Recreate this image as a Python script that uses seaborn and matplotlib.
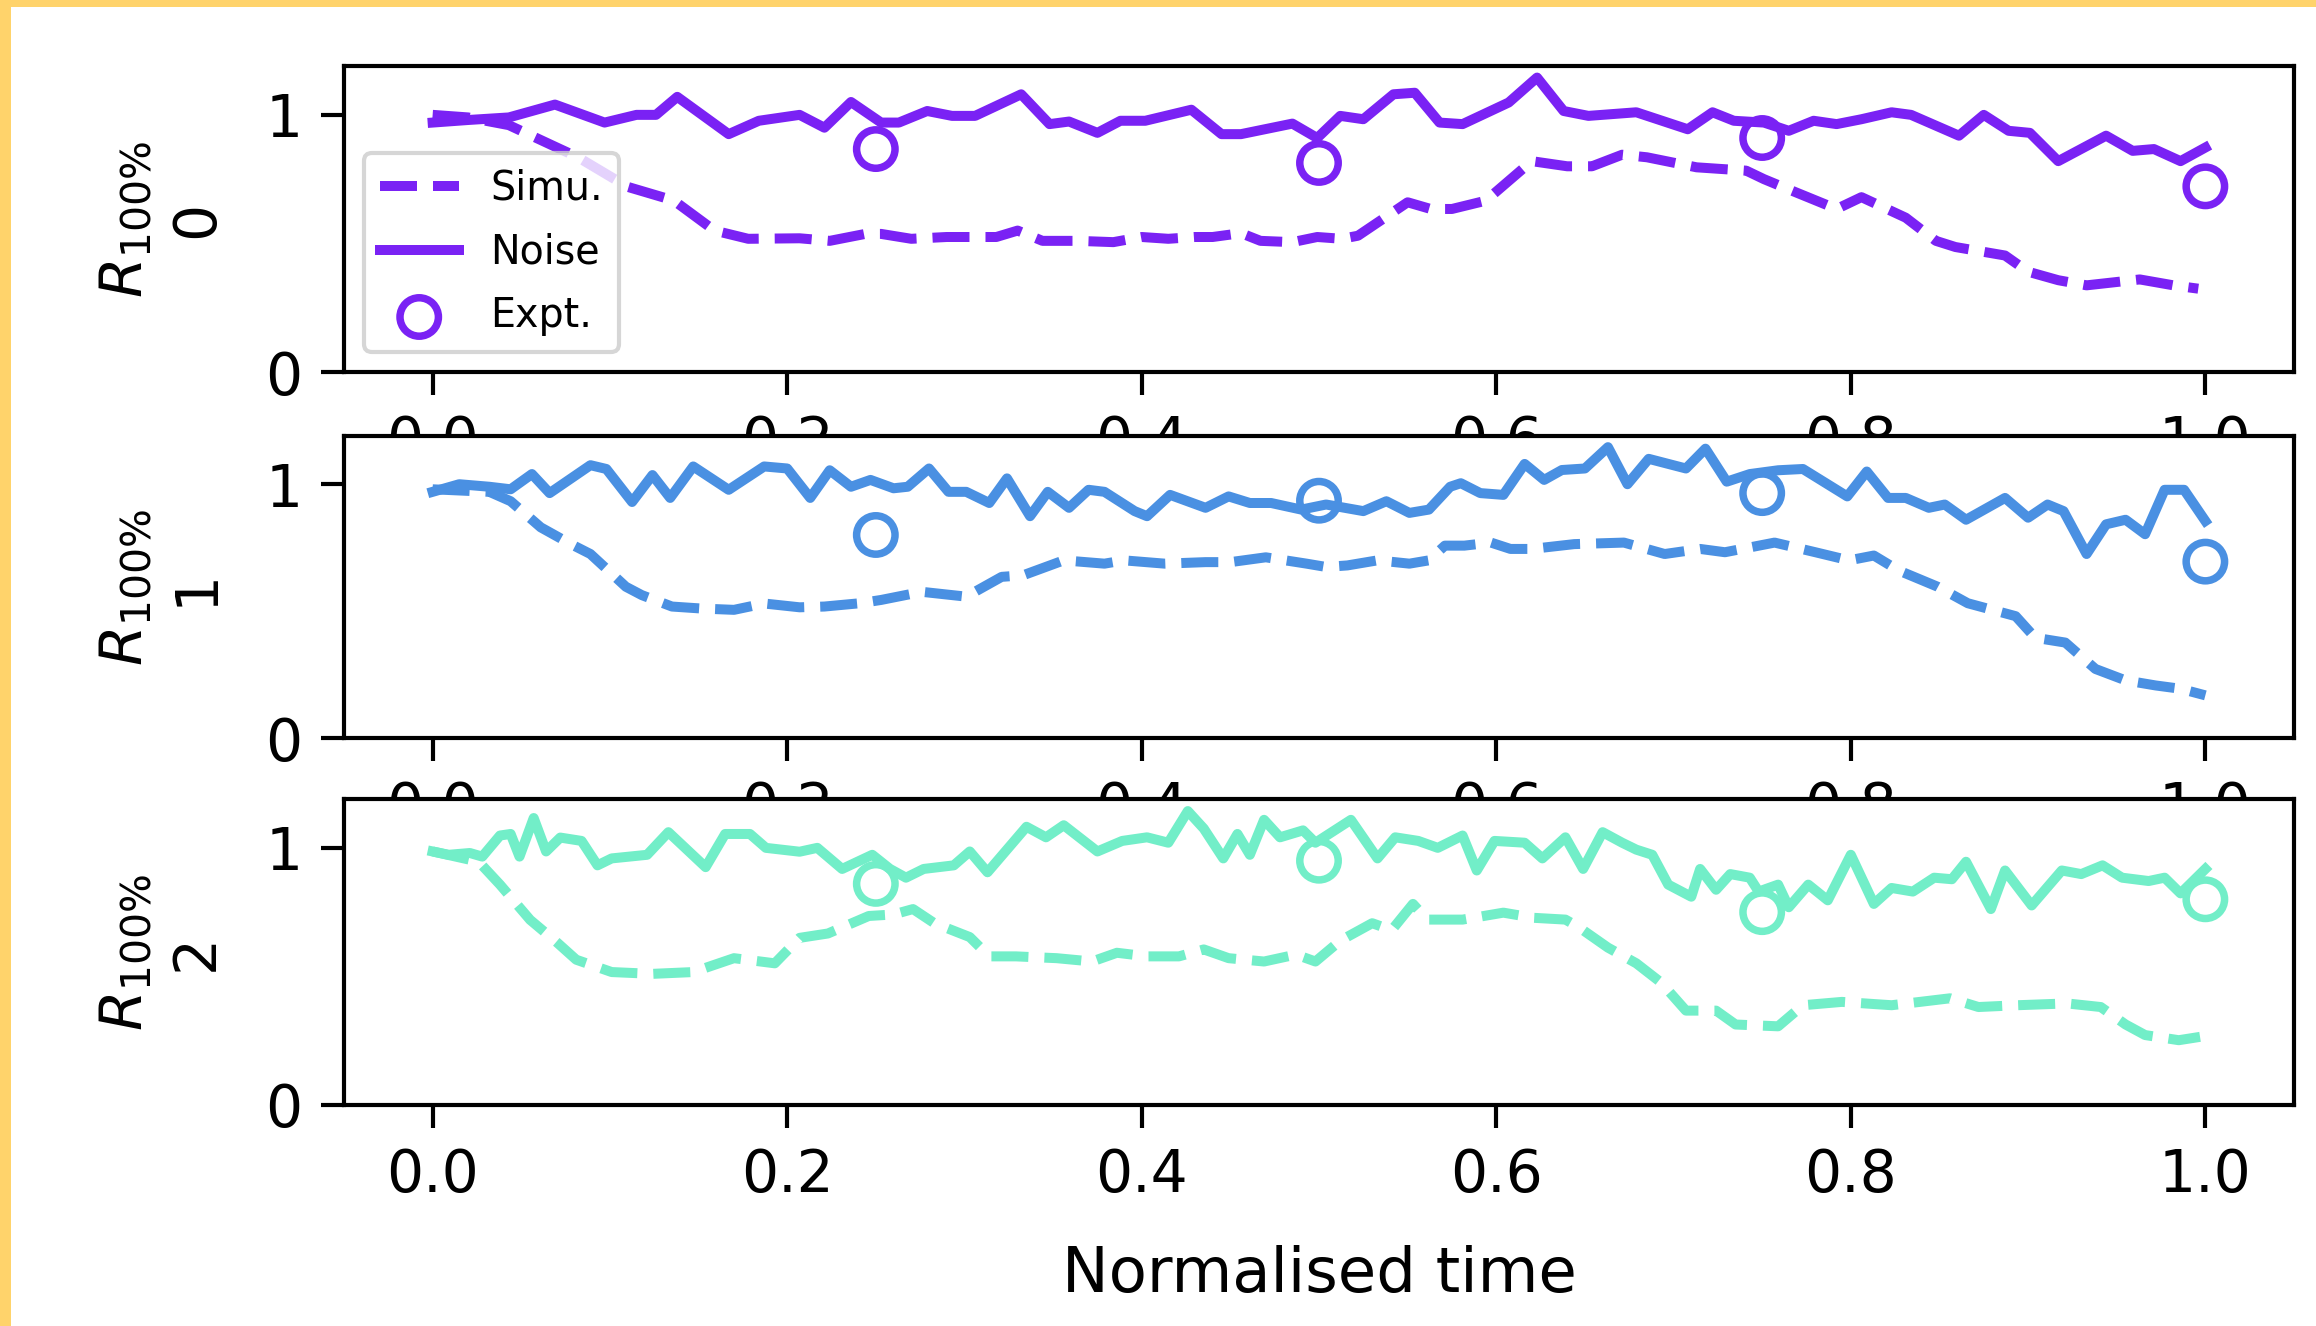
import numpy as np
import pandas as pd
import matplotlib
matplotlib.use("Agg")
import matplotlib.pyplot as plt
from matplotlib.patches import Rectangle
import seaborn as sns

# ---------------- data ----------------
row_ids = ["0", "1", "2"]
row_colors = ["#7a22f4", "#4a90e2", "#72eec8"]

expt_t = [0.25, 0.5, 0.75, 1.0]
expt_r0 = [0.867, 0.813, 0.91, 0.722]
expt_r1 = [0.80, 0.935, 0.965, 0.695]
expt_r2 = [0.86, 0.95, 0.75, 0.80]

noise_t0 = [0.000, 0.020, 0.043, 0.069, 0.097, 0.115, 0.126, 0.138, 0.167, 0.184,
            0.207, 0.221, 0.236, 0.253, 0.263, 0.279, 0.293, 0.306, 0.332, 0.348,
            0.359, 0.375, 0.388, 0.402, 0.428, 0.445, 0.456, 0.485, 0.499, 0.512,
            0.525, 0.542, 0.554, 0.568, 0.581, 0.607, 0.623, 0.638, 0.652, 0.679,
            0.708, 0.722, 0.734, 0.751, 0.765, 0.779, 0.792, 0.806, 0.823, 0.834,
            0.861, 0.875, 0.889, 0.901, 0.917, 0.944, 0.959, 0.971, 0.986, 1.000]
noise_r0 = [0.97, 0.98, 0.99, 1.04, 0.97, 1.00, 1.00, 1.07, 0.925, 0.977,
            1.00, 0.95, 1.05, 0.97, 0.97, 1.015, 0.996, 0.996, 1.08, 0.964,
            0.974, 0.93, 0.977, 0.977, 1.02, 0.925, 0.925, 0.966, 0.91, 0.996,
            0.983, 1.08, 1.086, 0.97, 0.964, 1.048, 1.145, 1.015, 0.996, 1.01,
            0.944, 1.01, 0.977, 0.97, 0.938, 0.977, 0.964, 0.983, 1.01, 1.00,
            0.919, 1.00, 0.938, 0.93, 0.82, 0.919, 0.86, 0.867, 0.82, 0.873]

simu_t0 = [0.000, 0.020, 0.043, 0.071, 0.082, 0.110, 0.136, 0.159, 0.178, 0.207,
           0.224, 0.244, 0.253, 0.270, 0.290, 0.300, 0.318, 0.330, 0.344, 0.364,
           0.384, 0.400, 0.415, 0.430, 0.440, 0.456, 0.467, 0.485, 0.499, 0.513,
           0.522, 0.550, 0.563, 0.575, 0.594, 0.620, 0.640, 0.654, 0.671, 0.685,
           0.713, 0.741, 0.751, 0.765, 0.792, 0.806, 0.831, 0.848, 0.859, 0.887,
           0.900, 0.917, 0.933, 0.950, 0.963, 0.982, 0.996]
simu_r0 = [1.00, 0.99, 0.96, 0.87, 0.835, 0.72, 0.667, 0.55, 0.518, 0.52,
           0.51, 0.537, 0.537, 0.518, 0.525, 0.525, 0.525, 0.55, 0.51, 0.51,
           0.505, 0.525, 0.518, 0.525, 0.525, 0.54, 0.51, 0.505, 0.525, 0.518,
           0.53, 0.66, 0.634, 0.634, 0.666, 0.82, 0.80, 0.80, 0.845, 0.835,
           0.796, 0.783, 0.75, 0.71, 0.634, 0.68, 0.60, 0.51, 0.486, 0.453,
           0.39, 0.357, 0.337, 0.35, 0.36, 0.337, 0.324]

noise_t1 = [0.000, 0.015, 0.032, 0.044, 0.056, 0.066, 0.089, 0.098, 0.1125, 0.124,
            0.134, 0.147, 0.167, 0.187, 0.200, 0.213, 0.224, 0.236, 0.247, 0.260,
            0.268, 0.280, 0.291, 0.301, 0.314, 0.324, 0.337, 0.347, 0.359, 0.370,
            0.379, 0.396, 0.403, 0.416, 0.436, 0.449, 0.461, 0.473, 0.490, 0.504,
            0.525, 0.538, 0.551, 0.562, 0.574, 0.580, 0.591, 0.604, 0.616, 0.627,
            0.637, 0.650, 0.663, 0.674, 0.686, 0.707, 0.718, 0.730, 0.743, 0.759,
            0.773, 0.798, 0.809, 0.821, 0.831, 0.844, 0.853, 0.865, 0.887, 0.900,
            0.911, 0.920, 0.933, 0.944, 0.955, 0.966, 0.977, 0.988, 1.000]
noise_r1 = [0.97, 1.00, 0.99, 0.98, 1.04, 0.965, 1.075, 1.06, 0.93, 1.036,
            0.946, 1.07, 0.978, 1.07, 1.062, 0.946, 1.055, 0.99, 1.017, 0.984,
            0.99, 1.062, 0.97, 0.97, 0.926, 1.023, 0.874, 0.97, 0.907, 0.978,
            0.97, 0.894, 0.874, 0.958, 0.907, 0.952, 0.926, 0.926, 0.90, 0.92,
            0.894, 0.933, 0.887, 0.90, 0.99, 1.004, 0.965, 0.958, 1.08, 1.017,
            1.056, 1.062, 1.146, 1.00, 1.10, 1.062, 1.14, 1.01, 1.04, 1.055,
            1.06, 0.952, 1.05, 0.946, 0.946, 0.907, 0.92, 0.86, 0.946, 0.868,
            0.92, 0.894, 0.725, 0.842, 0.86, 0.803, 0.978, 0.978, 0.855]

simu_t1 = [0.000, 0.032, 0.044, 0.061, 0.078, 0.089, 0.109, 0.118, 0.135, 0.152,
           0.170, 0.187, 0.207, 0.221, 0.241, 0.253, 0.276, 0.301, 0.321, 0.333,
           0.356, 0.379, 0.390, 0.413, 0.436, 0.450, 0.470, 0.493, 0.504, 0.516,
           0.533, 0.551, 0.562, 0.571, 0.582, 0.597, 0.608, 0.620, 0.644, 0.672,
           0.695, 0.715, 0.729, 0.757, 0.780, 0.799, 0.813, 0.827, 0.849, 0.866,
           0.893, 0.904, 0.921, 0.938, 0.955, 0.972, 0.986, 1.000]
simu_r1 = [0.98, 0.97, 0.933, 0.83, 0.764, 0.725, 0.596, 0.563, 0.518, 0.51,
           0.505, 0.53, 0.515, 0.518, 0.531, 0.544, 0.576, 0.557, 0.635, 0.641,
           0.70, 0.687, 0.70, 0.687, 0.693, 0.693, 0.712, 0.687, 0.674, 0.68,
           0.70, 0.687, 0.70, 0.758, 0.758, 0.77, 0.745, 0.745, 0.764, 0.77,
           0.725, 0.745, 0.732, 0.77, 0.732, 0.70, 0.719, 0.66, 0.596, 0.531,
           0.48, 0.395, 0.376, 0.272, 0.227, 0.207, 0.194, 0.168]

noise_t2 = [0.000, 0.009, 0.021, 0.028, 0.038, 0.044, 0.049, 0.057, 0.064, 0.072,
            0.084, 0.093, 0.101, 0.121, 0.133, 0.154, 0.165, 0.179, 0.188, 0.207,
            0.217, 0.231, 0.248, 0.258, 0.267, 0.277, 0.294, 0.303, 0.313, 0.335,
            0.346, 0.356, 0.375, 0.389, 0.403, 0.415, 0.426, 0.435, 0.446, 0.454,
            0.461, 0.469, 0.478, 0.491, 0.498, 0.518, 0.533, 0.543, 0.556, 0.567,
            0.581, 0.589, 0.599, 0.616, 0.626, 0.639, 0.649, 0.660, 0.671, 0.679,
            0.688, 0.697, 0.710, 0.715, 0.724, 0.732, 0.743, 0.748, 0.759, 0.765,
            0.776, 0.787, 0.800, 0.813, 0.823, 0.835, 0.847, 0.857, 0.865, 0.879,
            0.887, 0.902, 0.919, 0.930, 0.942, 0.953, 0.968, 0.977, 0.986, 1.000]
noise_r2 = [0.986, 0.973, 0.98, 0.966, 1.048, 1.054, 0.966, 1.116, 0.986, 1.04,
            1.027, 0.932, 0.959, 0.973, 1.061, 0.925, 1.054, 1.054, 1.00, 0.985,
            1.00, 0.918, 0.973, 0.918, 0.884, 0.918, 0.932, 0.986, 0.905, 1.082,
            1.041, 1.088, 0.986, 1.027, 1.041, 1.02, 1.143, 1.075, 0.959, 1.054,
            0.973, 1.109, 1.041, 1.068, 1.02, 1.109, 0.959, 1.041, 1.027, 1.00,
            1.048, 0.912, 1.027, 1.02, 0.959, 1.041, 0.918, 1.061, 1.02, 0.993,
            0.973, 0.857, 0.81, 0.918, 0.837, 0.898, 0.884, 0.83, 0.857, 0.769,
            0.857, 0.796, 0.973, 0.782, 0.844, 0.83, 0.884, 0.878, 0.946, 0.762,
            0.912, 0.776, 0.912, 0.898, 0.932, 0.884, 0.871, 0.884, 0.823, 0.918]

simu_t2 = [0.000, 0.026, 0.038, 0.055, 0.070, 0.081, 0.101, 0.124, 0.147, 0.170,
           0.193, 0.207, 0.223, 0.246, 0.260, 0.271, 0.283, 0.303, 0.314, 0.329,
           0.352, 0.372, 0.386, 0.403, 0.421, 0.435, 0.449, 0.469, 0.487, 0.498,
           0.512, 0.530, 0.541, 0.553, 0.561, 0.581, 0.604, 0.621, 0.639, 0.646,
           0.663, 0.679, 0.693, 0.707, 0.724, 0.735, 0.759, 0.773, 0.795, 0.823,
           0.839, 0.856, 0.872, 0.894, 0.922, 0.941, 0.955, 0.966, 0.985, 0.997]
simu_r2 = [0.986, 0.946, 0.857, 0.72, 0.633, 0.565, 0.517, 0.51, 0.517, 0.571,
           0.551, 0.65, 0.667, 0.735, 0.741, 0.762, 0.707, 0.653, 0.578, 0.578,
           0.571, 0.558, 0.592, 0.578, 0.578, 0.605, 0.571, 0.558, 0.585, 0.558,
           0.639, 0.707, 0.68, 0.782, 0.721, 0.721, 0.748, 0.728, 0.721, 0.694,
           0.612, 0.551, 0.476, 0.367, 0.367, 0.313, 0.306, 0.388, 0.401, 0.388,
           0.401, 0.415, 0.381, 0.388, 0.395, 0.381, 0.313, 0.272, 0.252, 0.265]

x_ticks = [0.0, 0.2, 0.4, 0.6, 0.8, 1.0]
y_ticks = [0, 1]
x_label = "Normalised time"
legend_labels = ["Simu.", "Noise", "Expt."]

rows = [
    (noise_t0, noise_r0, simu_t0, simu_r0, expt_r0),
    (noise_t1, noise_r1, simu_t1, simu_r1, expt_r1),
    (noise_t2, noise_r2, simu_t2, simu_r2, expt_r2),
]

# ---------------- figure ----------------
plt.rcParams.update({
    "font.family": ["DejaVu Sans"],
    "axes.linewidth": 1.0,
    "xtick.major.size": 5.5,
    "ytick.major.size": 5.5,
    "xtick.major.width": 1.0,
    "ytick.major.width": 1.0,
    "xtick.major.pad": 4.5,
    "ytick.major.pad": 4.5,
    "xtick.labelsize": 14,
    "ytick.labelsize": 14,
})

W, H, DPI = 2316, 1326, 300
fig = plt.figure(figsize=(W / DPI, H / DPI), dpi=DPI, facecolor="white")

left = 344 / W
width = (2294 - 344) / W
tops = [66, 436, 799]
bottoms = [372, 738, 1105]

LW = 2.4
axes = []
for i, (nt, nr, st, sr, er) in enumerate(rows):
    rect = [left, 1 - bottoms[i] / H, width, (bottoms[i] - tops[i]) / H]
    ax = fig.add_axes(rect)
    ax.set_facecolor("white")
    c = row_colors[i]
    sim_df = pd.DataFrame({"t": st, "r": sr})
    noi_df = pd.DataFrame({"t": nt, "r": nr})
    exp_df = pd.DataFrame({"t": expt_t, "r": er})
    sns.lineplot(data=sim_df, x="t", y="r", ax=ax, color=c, linestyle="--",
                 linewidth=LW, sort=False, estimator=None, label=legend_labels[0])
    sns.lineplot(data=noi_df, x="t", y="r", ax=ax, color=c, linestyle="-",
                 linewidth=LW, sort=False, estimator=None, label=legend_labels[1])
    sns.scatterplot(data=exp_df, x="t", y="r", ax=ax, marker="o", s=85,
                    facecolors="none", edgecolor=c, linewidth=1.8,
                    label=legend_labels[2], zorder=3)
    ax.set_xlim(-0.05, 1.05)
    ax.set_ylim(0, 1.19)
    ax.set_xticks(x_ticks)
    ax.set_xticklabels([f"{v:.1f}" for v in x_ticks])
    ax.set_yticks(y_ticks)
    ax.set_yticklabels([str(v) for v in y_ticks])
    ax.set_xlabel("")
    ax.set_ylabel(r"$R_{100\%}$" + "\n" + row_ids[i], fontsize=14, labelpad=9.7,
                  linespacing=1.3)
    for sp in ax.spines.values():
        sp.set_color("black")
    if i == 0:
        ax.legend(loc="lower left", fontsize=9.5, labelspacing=0.6)
    else:
        lg = ax.get_legend()
        if lg is not None:
            lg.remove()
    axes.append(ax)

axes[-1].set_xlabel(x_label, fontsize=15, labelpad=10)

# yellow frame strips (top and left)
fig.add_artist(Rectangle((0, 0), 11 / W, 1, transform=fig.transFigure,
                         facecolor="#FFD36B", edgecolor="none", zorder=10))
fig.add_artist(Rectangle((0, 1 - 7 / H), 1, 7 / H, transform=fig.transFigure,
                         facecolor="#FFD36B", edgecolor="none", zorder=10))

fig.savefig("out.png", dpi=DPI, facecolor="white")
